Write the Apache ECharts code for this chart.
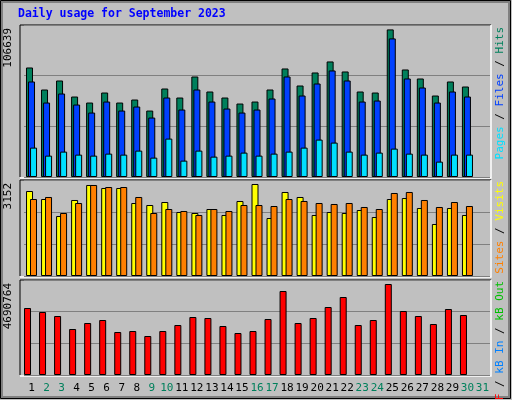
<!DOCTYPE html>
<html><head><meta charset="utf-8">
<script src="https://cdn.jsdelivr.net/npm/echarts@6/dist/echarts.min.js"></script>
<style>html,body{margin:0;padding:0;background:#C0C0C0}#c{width:512px;height:400px}</style>
</head><body><div id="c"></div>
<script>
const days = Array.from({length:31},(_,i)=>String(i+1));
const weekend = ['2','3','9','10','16','17','23','24','30','31'];
const hits = [79133,63210,69724,58144,53801,61039,53801,55972,48011,63934,57420,72619,61763,57420,53077,54525,63210,78410,66105,75514,83476,76238,61763,61039,106639,77686,71172,58867,69000,65381,null];
const files = [69000,53801,60315,52353,46563,54525,48011,50906,42944,57420,48735,63210,54525,49458,46563,48735,56696,72619,58867,67553,76962,69724,54525,55248,100123,71172,64658,53801,61763,58144,null];
const pages = [21231,15441,18336,16164,15441,16888,16164,19060,13993,27745,11822,19060,14717,15441,17612,15441,16888,18336,21231,27021,24850,18336,16164,17612,20507,16888,16164,11098,16164,16164,null];
const visits = [2912,2638,2056,2604,3118,3015,3015,2501,2432,2535,2193,2158,2295,2090,2570,3152,1987,2878,2707,2090,2193,2158,2261,2021,2638,2672,2330,1782,2330,2090,null];
const sites = [2638,2707,2158,2501,3118,3049,3049,2707,2158,2295,2227,2090,2295,2227,2432,2432,2398,2638,2570,2501,2467,2501,2364,2295,2844,2878,2604,2364,2535,2398,null];
const kbytes = [3453582,3247398,3041214,2371116,2680392,2835030,2216478,2268024,2010294,2268024,2577300,2989668,2938122,2525754,2164932,2268024,2886576,4329864,2680392,2938122,3505128,4020588,2577300,2835030,4690764,3298944,3041214,2628846,3402036,3092760,null];
const maxLabels = ['106639','3152','4690764'];

const mono = 'DejaVu Sans Mono';
const panels = [{top:25,h:152},{top:180,h:96},{top:280,h:95}];
const maxes = [109820,3289,4896952];
const chart = echarts.init(document.getElementById('c'));
const grids = panels.map(p=>({left:24,right:22,top:p.top,height:p.h}));
const xAxes = panels.map((p,i)=>({type:'category',gridIndex:i,data:days,axisLine:{show:false},axisTick:{show:false},
  axisLabel:{show:i===2,interval:0,hideOverlap:false,margin:8,fontFamily:mono,fontSize:11,
    formatter:v=>weekend.includes(v)?'{w|'+v+'}':'{n|'+v+'}',
    rich:{w:{color:'#00805C',fontFamily:mono,fontSize:11},n:{color:'#000',fontFamily:mono,fontSize:11}}}}));
const yAxes = maxes.map((m,i)=>({type:'value',gridIndex:i,min:0,max:m,interval:m/3,axisLabel:{show:false},axisLine:{show:false},axisTick:{show:false},
  splitLine:{show:true,lineStyle:{color:'#808080',width:1}}}));
const bs = c=>({color:c,borderColor:'#000',borderWidth:1});
const series = [
  {type:'bar',xAxisIndex:0,yAxisIndex:0,data:hits,barWidth:7,barGap:'-71%',itemStyle:bs('#00805C'),silent:true},
  {type:'bar',xAxisIndex:0,yAxisIndex:0,data:files,barWidth:7,barGap:'-71%',itemStyle:bs('#0040FF'),silent:true},
  {type:'bar',xAxisIndex:0,yAxisIndex:0,data:pages,barWidth:7,barGap:'-71%',itemStyle:bs('#00E0FF'),silent:true},
  {type:'bar',xAxisIndex:1,yAxisIndex:1,data:visits,barWidth:7,barGap:'-43%',itemStyle:bs('#FFFF00'),silent:true},
  {type:'bar',xAxisIndex:1,yAxisIndex:1,data:sites,barWidth:7,barGap:'-43%',itemStyle:bs('#FF8000'),silent:true},
  {type:'bar',xAxisIndex:2,yAxisIndex:2,data:kbytes,barWidth:7,barGap:'14%',itemStyle:bs('#FF0000'),silent:true},
  {type:'bar',xAxisIndex:2,yAxisIndex:2,data:kbytes.map(()=>null),barWidth:7,barGap:'14%',silent:true}
];
const g = [
  {type:'rect',z:-10,shape:{x:0.5,y:0.5,width:510,height:398},style:{fill:'#C0C0C0',stroke:'#000',lineWidth:1}},
  {type:'rect',z:-9,shape:{x:2,y:2,width:507,height:395},style:{fill:'none',stroke:'#808080',lineWidth:2}},
  {type:'text',left:18,top:8,style:{text:'Daily usage for September 2023',fill:'#0000FF',font:'bold 11.5px '+mono}}
];
panels.forEach((p,i)=>{
  g.push({type:'polyline',z:-5,shape:{points:[[20,p.top+p.h],[20,p.top],[491,p.top]]},style:{stroke:'#000',fill:'none',lineWidth:1}});
  g.push({type:'polyline',z:-5,shape:{points:[[20,p.top+p.h+1],[491,p.top+p.h+1],[491,p.top]]},style:{stroke:'#fff',fill:'none',lineWidth:1.5}});
  g.push({type:'text',x:8,y:p.top+3,rotation:Math.PI/2,style:{text:maxLabels[i],fill:'#000',font:'11px '+mono,align:'right',verticalAlign:'middle'}});
});
const rl = (y,parts)=>({type:'text',x:500,y:y,rotation:Math.PI/2,style:{
  text:parts.map(p=>'{'+p[1]+'|'+p[0]+'}').join(''),align:'right',verticalAlign:'middle',
  rich:Object.fromEntries(parts.map(p=>[p[1],{fill:p[2],font:'11px '+mono}]))}});
g.push(rl(27,[['Pages','a','#00E0FF'],[' / ','s','#000'],['Files','b','#0040FF'],[' / ','t','#000'],['Hits','c','#00805C']]));
g.push(rl(181,[['Sites','a','#FF8000'],[' / ','s','#000'],['Visits','b','#FFFF00']]));
g.push(rl(281,[['kB F','a','#FF0000'],[' / ','s','#000'],['kB In','b','#0080FF'],[' / ','t','#000'],['kB Out','c','#00C000']]));
chart.setOption({animation:false,backgroundColor:'#C0C0C0',grid:grids,xAxis:xAxes,yAxis:yAxes,series:series,graphic:g});
</script></body></html>
